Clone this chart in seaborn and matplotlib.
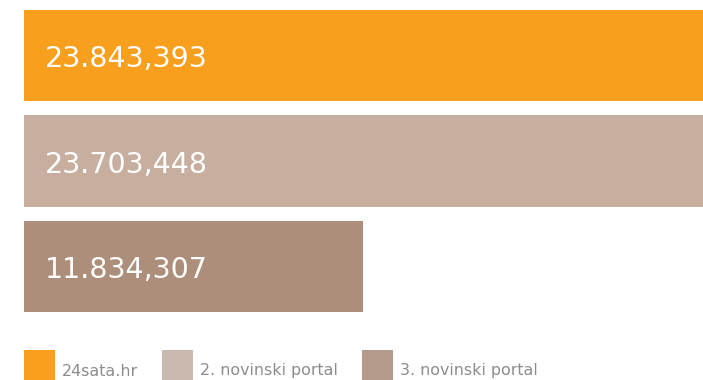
import matplotlib
matplotlib.use("Agg")
import matplotlib.pyplot as plt
import matplotlib.transforms as mtransforms
from matplotlib.patches import Rectangle
import seaborn as sns
import pandas as pd

portals = ["24sata.hr", "2. novinski portal", "3. novinski portal"]
visits = [23843393, 23703448, 11834307]
value_labels = ["23.843,393", "23.703,448", "11.834,307"]
bar_colors = ["#F89F1E", "#C7AE9F", "#AD8E7B"]
legend_colors = ["#F89F1E", "#CAB9AF", "#B39A8A"]

sns.set_theme(style="white")
plt.rcParams["font.family"] = ["DejaVu Sans"]

W, H = 703, 380
fig = plt.figure(figsize=(W / 100, H / 100), dpi=100)

# axes spans from the left margin to the right edge; y centres every 105.5 px
ax = fig.add_axes([24 / W, (H - 319.25) / H, 679 / W, 316.5 / H])

df = pd.DataFrame({"portal": portals, "visits": visits})
sns.barplot(data=df, x="visits", y="portal", hue="portal",
            palette=bar_colors, orient="h", width=0.863,
            legend=False, saturation=1, linewidth=0, ax=ax)

ax.set_xlim(0, visits[1])
ax.set_ylim(2.5, -0.5)
ax.set_axis_off()

# value text inside each bar
offset = mtransforms.offset_copy(ax.transData, fig=fig, x=21, y=-11.5, units="dots")
for i, lab in enumerate(value_labels):
    ax.text(0, i, lab, transform=offset, color="white", fontsize=20.5,
            ha="left", va="baseline")

# legend row along the bottom
legend_x = [24, 162, 362]
for x0, name, col in zip(legend_x, portals, legend_colors):
    fig.patches.append(Rectangle((x0 / W, 0 / H), 31 / W, 30 / H,
                                 transform=fig.transFigure, color=col, lw=0))
    fig.text((x0 + 38) / W, 4.5 / H, name, color="#8C8C8C", fontsize=11.4,
             ha="left", va="baseline")

fig.savefig("out.png", dpi=100)
